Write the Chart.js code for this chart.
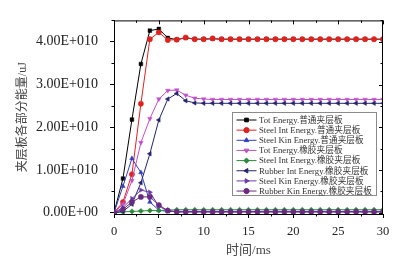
<!DOCTYPE html>
<html>
<head>
<meta charset="utf-8">
<script src="https://cdn.jsdelivr.net/npm/chart.js@4.4.0/dist/chart.umd.min.js"></script>
<style>
  body { margin: 0; background: #fff; }
  #wrap { width: 398px; height: 265px; }
</style>
</head>
<body>
<div id="wrap"><canvas id="energyChart" width="398" height="265"></canvas></div>
<script>
// 时间 (ms) 与各部分能量 (单位 1E+10 uJ)
const times = [0,1,2,3,4,5,6,7,8,9,10,11,12,13,14,15,16,17,18,19,20,21,22,23,24,25,26,27,28,29,30];

const totPutong      = [0,0.80,2.18,3.48,4.26,4.30,4.09,4.05,4.09,4.06,4.06,4.07,4.06,4.06,4.06,4.06,4.06,4.06,4.06,4.06,4.06,4.06,4.06,4.06,4.06,4.06,4.06,4.06,4.06,4.06,4.06];
const steelIntPutong = [0,0.25,0.90,2.55,4.06,4.22,4.04,4.05,4.10,4.06,4.06,4.08,4.06,4.06,4.06,4.06,4.06,4.06,4.06,4.06,4.06,4.06,4.06,4.06,4.06,4.06,4.06,4.06,4.06,4.06,4.06];
const steelKinPutong = [0,0.62,1.27,0.94,0.25,0.06,0.03,0.03,0.03,0.03,0.03,0.03,0.03,0.03,0.03,0.03,0.03,0.03,0.03,0.03,0.03,0.03,0.03,0.03,0.03,0.03,0.03,0.03,0.03,0.03,0.03];
const totXiangjiao   = [0,0.20,0.75,1.64,2.20,2.66,2.86,2.87,2.75,2.68,2.66,2.65,2.65,2.65,2.65,2.65,2.65,2.65,2.65,2.65,2.65,2.65,2.65,2.65,2.65,2.65,2.65,2.65,2.65,2.65,2.65];
const steelIntXj     = [0,0.02,0.03,0.04,0.05,0.05,0.06,0.07,0.07,0.07,0.07,0.07,0.07,0.07,0.07,0.07,0.07,0.07,0.07,0.07,0.07,0.07,0.07,0.07,0.07,0.07,0.07,0.07,0.07,0.07,0.07];
const rubberIntXj    = [0,0.03,0.20,0.70,1.38,2.17,2.66,2.79,2.62,2.57,2.56,2.56,2.56,2.56,2.56,2.56,2.56,2.56,2.56,2.56,2.56,2.56,2.56,2.56,2.56,2.56,2.56,2.56,2.56,2.56,2.56];
const steelKinXj     = [0,0.12,0.33,0.53,0.48,0.15,0.04,0.02,0.02,0.02,0.02,0.02,0.02,0.02,0.02,0.02,0.02,0.02,0.02,0.02,0.02,0.02,0.02,0.02,0.02,0.02,0.02,0.02,0.02,0.02,0.02];
const rubberKinXj    = [0,0.08,0.25,0.37,0.37,0.18,0.05,0.02,0.02,0.02,0.02,0.02,0.02,0.02,0.02,0.02,0.02,0.02,0.02,0.02,0.02,0.02,0.02,0.02,0.02,0.02,0.02,0.02,0.02,0.02,0.02];

const seriesNames = [
  'Tot Energy.普通夹层板', 'Steel Int Energy.普通夹层板', 'Steel Kin Energy.普通夹层板',
  'Tot Energy.橡胶夹层板', 'Steel Int Energy.橡胶夹层板', 'Rubber Int Energy.橡胶夹层板',
  'Steel Kin Energy.橡胶夹层板', 'Rubber Kin Energy.橡胶夹层板'
];
const yTicks = [0, 1, 2, 3, 4];
const yLabels = ['0.00E+00', '1.00E+010', '2.00E+010', '3.00E+010', '4.00E+010'];
const xTicks = [0, 5, 10, 15, 20, 25, 30];

const seriesValues = [totPutong, steelIntPutong, steelKinPutong, totXiangjiao, steelIntXj, rubberIntXj, steelKinXj, rubberKinXj];
const colors = ['#000000', '#e0221e', '#2f3fbf', '#c04fc8', '#2a8a3a', '#24246e', '#6a3aa8', '#6a2a80'];
const markers = [
  { style: 'rect', rot: 0 }, { style: 'circle', rot: 0 }, { style: 'triangle', rot: 0 },
  { style: 'triangle', rot: 180 }, { style: 'rectRot', rot: 0 }, { style: 'triangle', rot: 270 },
  { style: 'triangle', rot: 90 }, { style: 'circle', rot: 0 }
];

const serif = "'Liberation Serif', 'Noto Sans CJK SC', serif";
Chart.defaults.font.family = serif;
Chart.defaults.color = '#222';

const datasets = seriesValues.map((vals, i) => ({
  label: seriesNames[i],
  data: times.map((t, k) => ({ x: t, y: vals[k] })),
  borderColor: colors[i],
  backgroundColor: colors[i],
  borderWidth: 1,
  pointStyle: markers[i].style,
  rotation: markers[i].rot,
  pointRadius: 2.6,
  pointBorderWidth: 0.5,
  tension: 0,
  order: 8 - i
}));

// 手动画出次刻度、上/右镜像刻度以及图例
const extras = {
  id: 'extras',
  afterDraw(chart) {
    const c = chart.ctx;
    const xs = chart.scales.x, ys = chart.scales.y;
    const a = chart.chartArea;
    c.save();
    c.strokeStyle = '#000';
    c.lineWidth = 1;
    c.beginPath();
    c.moveTo(a.left, a.top + 0.5); c.lineTo(a.right, a.top + 0.5);
    c.moveTo(a.right - 0.5, a.top); c.lineTo(a.right - 0.5, a.bottom);
    // x ticks
    for (let v = 0; v <= 30; v += 2.5) {
      const px = Math.round(xs.getPixelForValue(v)) + 0.5;
      const major = v % 5 === 0;
      const len = major ? 4 : 2.5;
      c.moveTo(px, a.top); c.lineTo(px, a.top + len);
      if (!major) { c.moveTo(px, a.bottom); c.lineTo(px, a.bottom + len); }
    }
    // y ticks
    for (let v = 0; v <= 4.5; v += 0.5) {
      const py = Math.round(ys.getPixelForValue(v)) + 0.5;
      const major = Math.abs(v - Math.round(v)) < 1e-6;
      const len = major ? 4 : 2.5;
      c.moveTo(a.right, py); c.lineTo(a.right - len, py);
      if (!major) { c.moveTo(a.left, py); c.lineTo(a.left - len, py); }
    }
    c.stroke();

    // 图例
    const lx = 232.5, ly = 112.5, lw = 144, lh = 83, rowH = 10.15;
    c.fillStyle = '#fff';
    c.fillRect(lx, ly, lw, lh);
    c.strokeStyle = '#8a8a8a';
    c.strokeRect(lx, ly, lw, lh);
    c.font = '8.7px ' + serif;
    c.textBaseline = 'middle';
    c.textAlign = 'left';
    seriesNames.forEach((name, i) => {
      const y = 120 + i * rowH;
      c.strokeStyle = colors[i];
      c.fillStyle = colors[i];
      c.lineWidth = 1;
      c.beginPath();
      c.moveTo(236.5, y); c.lineTo(256.5, y);
      c.stroke();
      Chart.helpers.drawPoint(c, { pointStyle: markers[i].style, radius: 2.6, rotation: markers[i].rot, borderWidth: 0.5 }, 246.5, y);
      c.fillStyle = '#333';
      c.fillText(name, 259, y + 0.5);
    });
    c.restore();
  }
};

const ctx = document.getElementById('energyChart').getContext('2d');
new Chart(ctx, {
  type: 'line',
  data: { datasets },
  options: {
    responsive: false,
    animation: false,
    layout: { padding: { top: 14, right: 15, bottom: 0, left: 0 } },
    plugins: { legend: { display: false }, tooltip: { enabled: false } },
    scales: {
      x: {
        type: 'linear',
        min: 0, max: 30,
        afterBuildTicks: s => { s.ticks = xTicks.map(v => ({ value: v })); },
        afterFit: s => { s.height = 51; },
        ticks: { font: { size: 12.5 }, color: '#222', padding: 6, maxRotation: 0 },
        grid: { drawOnChartArea: false, tickLength: 4, color: '#000' },
        border: { color: '#000', width: 1 },
        title: { display: true, text: '时间/ms', font: { size: 13 }, color: '#444', padding: { top: 7, bottom: 7 } }
      },
      y: {
        min: -0.03, max: 4.5,
        afterBuildTicks: s => { s.ticks = yTicks.map(v => ({ value: v })); },
        afterFit: s => { s.width = 114; },
        ticks: { font: { size: 14 }, color: '#222', padding: 12, callback: (v, i) => yLabels[i] },
        grid: { drawOnChartArea: false, tickLength: 4, color: '#000' },
        border: { color: '#000', width: 1 },
        title: { display: true, text: '夹层板各部分能量/uJ', font: { size: 12 }, color: '#444', padding: { top: 16, bottom: 0 } }
      }
    }
  },
  plugins: [extras]
});
</script>
</body>
</html>
